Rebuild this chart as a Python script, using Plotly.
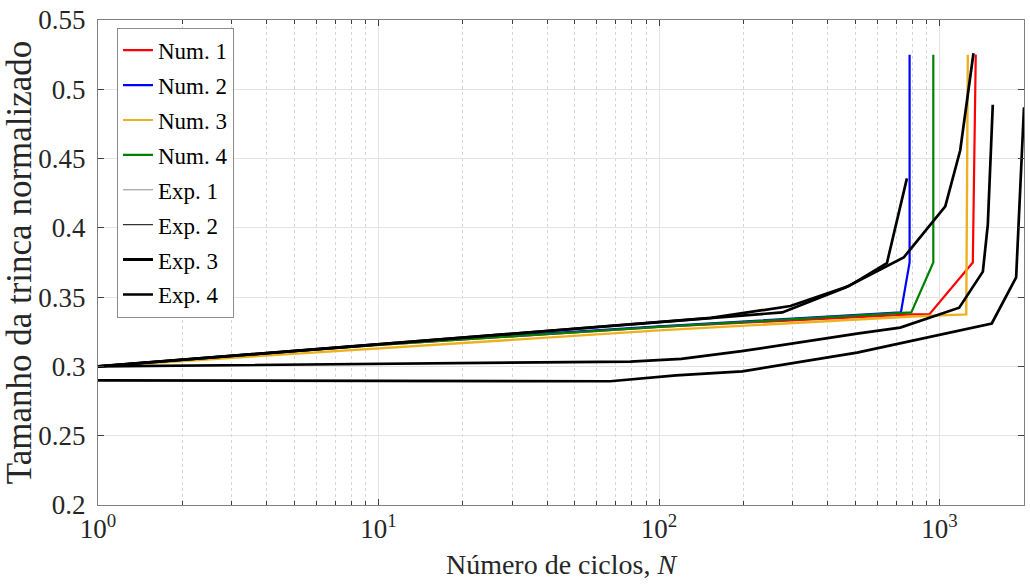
import plotly.graph_objects as go

# ---- data ----
num1_x = [1, 10, 100, 800, 919, 1314, 1346]
num1_y = [0.300, 0.3155, 0.3286, 0.3375, 0.3375, 0.375, 0.525]
num2_x = [1, 10, 100, 728, 782, 782]
num2_y = [0.300, 0.316, 0.329, 0.339, 0.375, 0.525]
num3_x = [1, 10, 100, 800, 1245, 1261]
num3_y = [0.300, 0.313, 0.326, 0.336, 0.3375, 0.525]
num4_x = [1, 10, 100, 793, 950, 950]
num4_y = [0.300, 0.3155, 0.3286, 0.339, 0.375, 0.525]

exp1_x = [1, 153, 294, 475, 649, 765]
exp1_y = [0.300, 0.335, 0.3436, 0.358, 0.3745, 0.4357]
exp2_x = [1, 275, 462, 745, 1048, 1185, 1321]
exp2_y = [0.300, 0.339, 0.357, 0.3786, 0.4155, 0.456, 0.526]
exp3_x = [1, 79, 120, 197, 515, 724, 1175, 1427, 1486, 1548]
exp3_y = [0.300, 0.3035, 0.3055, 0.311, 0.3238, 0.328, 0.3424, 0.3684, 0.4024, 0.4888]
exp4_x = [1, 67, 115, 198, 508, 1535, 1875, 2000]
exp4_y = [0.290, 0.2893, 0.2935, 0.2964, 0.310, 0.331, 0.3643, 0.487]

x_tickvals = [1, 10, 100, 1000]
x_ticktext = ["10<sup>0</sup>", "10<sup>1</sup>", "10<sup>2</sup>", "10<sup>3</sup>"]
x_minor_vals = [2, 3, 4, 5, 6, 7, 8, 9,
                20, 30, 40, 50, 60, 70, 80, 90,
                200, 300, 400, 500, 600, 700, 800, 900, 2000]
y_tickvals = [0.2, 0.25, 0.3, 0.35, 0.4, 0.45, 0.5, 0.55]
y_ticktext = ["0.2", "0.25", "0.3", "0.35", "0.4", "0.45", "0.5", "0.55"]

FONT = "Liberation Serif"

# name, x, y, plot colour, plot width, legend colour, legend width
series = [
    ("Num. 1", num1_x, num1_y, "#FF0000", 2.2, "#FF0000", 2.2),
    ("Num. 2", num2_x, num2_y, "#0000FF", 2.2, "#0000FF", 2.2),
    ("Num. 3", num3_x, num3_y, "#EDB120", 2.4, "#EDB120", 2.2),
    ("Num. 4", num4_x, num4_y, "#008000", 2.2, "#008000", 2.2),
    ("Exp. 1", exp1_x, exp1_y, "#000000", 2.7, "#8c8c8c", 1),
    ("Exp. 2", exp2_x, exp2_y, "#000000", 2.7, "#000000", 1),
    ("Exp. 3", exp3_x, exp3_y, "#000000", 2.7, "#000000", 3),
    ("Exp. 4", exp4_x, exp4_y, "#000000", 2.7, "#000000", 2.5),
]

fig = go.Figure()
for name, xs, ys, col, w, lcol, lw in series:
    fig.add_trace(go.Scatter(x=xs, y=ys, mode="lines", name=name,
                             line=dict(color=col, width=w),
                             showlegend=False, legendgroup=name))
for name, xs, ys, col, w, lcol, lw in series:
    fig.add_trace(go.Scatter(x=[None], y=[None], mode="lines", name=name,
                             line=dict(color=lcol, width=lw),
                             showlegend=True, legendgroup=name))

fig.update_layout(
    width=1030, height=585,
    margin=dict(l=98, r=5, t=15, b=80),
    paper_bgcolor="white", plot_bgcolor="white",
    font=dict(family=FONT, size=20, color="#262626"),
    legend=dict(x=0.0205, y=0.984, xanchor="left", yanchor="top",
                bgcolor="white", bordercolor="#8c8c8c", borderwidth=1,
                font=dict(family=FONT, size=23, color="#000000"),
                tracegroupgap=2, itemwidth=30),
)
fig.update_xaxes(
    type="log", range=[0, 3.30103],
    tickvals=x_tickvals, ticktext=x_ticktext,
    showgrid=True, gridcolor="#e3e3e3", gridwidth=1,
    showline=True, linecolor="#808080", linewidth=1, mirror="ticks",
    ticks="inside", ticklen=6, tickcolor="#404040",
    minor=dict(tickvals=x_minor_vals, ticks="inside", ticklen=4,
               tickcolor="#404040",
               showgrid=True, gridcolor="#d6d6d6", griddash="dot"),
    tickfont=dict(family=FONT, size=27, color="#262626"),
    title=dict(text="Número de ciclos, <i>N</i>", standoff=10,
               font=dict(family=FONT, size=28, color="#262626")),
    zeroline=False,
)
fig.update_yaxes(
    range=[0.2, 0.55],
    tickvals=y_tickvals, ticktext=y_ticktext,
    showgrid=True, gridcolor="#e3e3e3", gridwidth=1,
    showline=True, linecolor="#808080", linewidth=1, mirror="ticks",
    ticks="inside", ticklen=6, tickcolor="#404040",
    ticklabelstandoff=6,
    tickfont=dict(family=FONT, size=27, color="#262626"),
    title=dict(text="Tamanho da trinca normalizado", standoff=4,
               font=dict(family=FONT, size=35, color="#262626")),
    zeroline=False,
)

fig.write_html("out.html")
